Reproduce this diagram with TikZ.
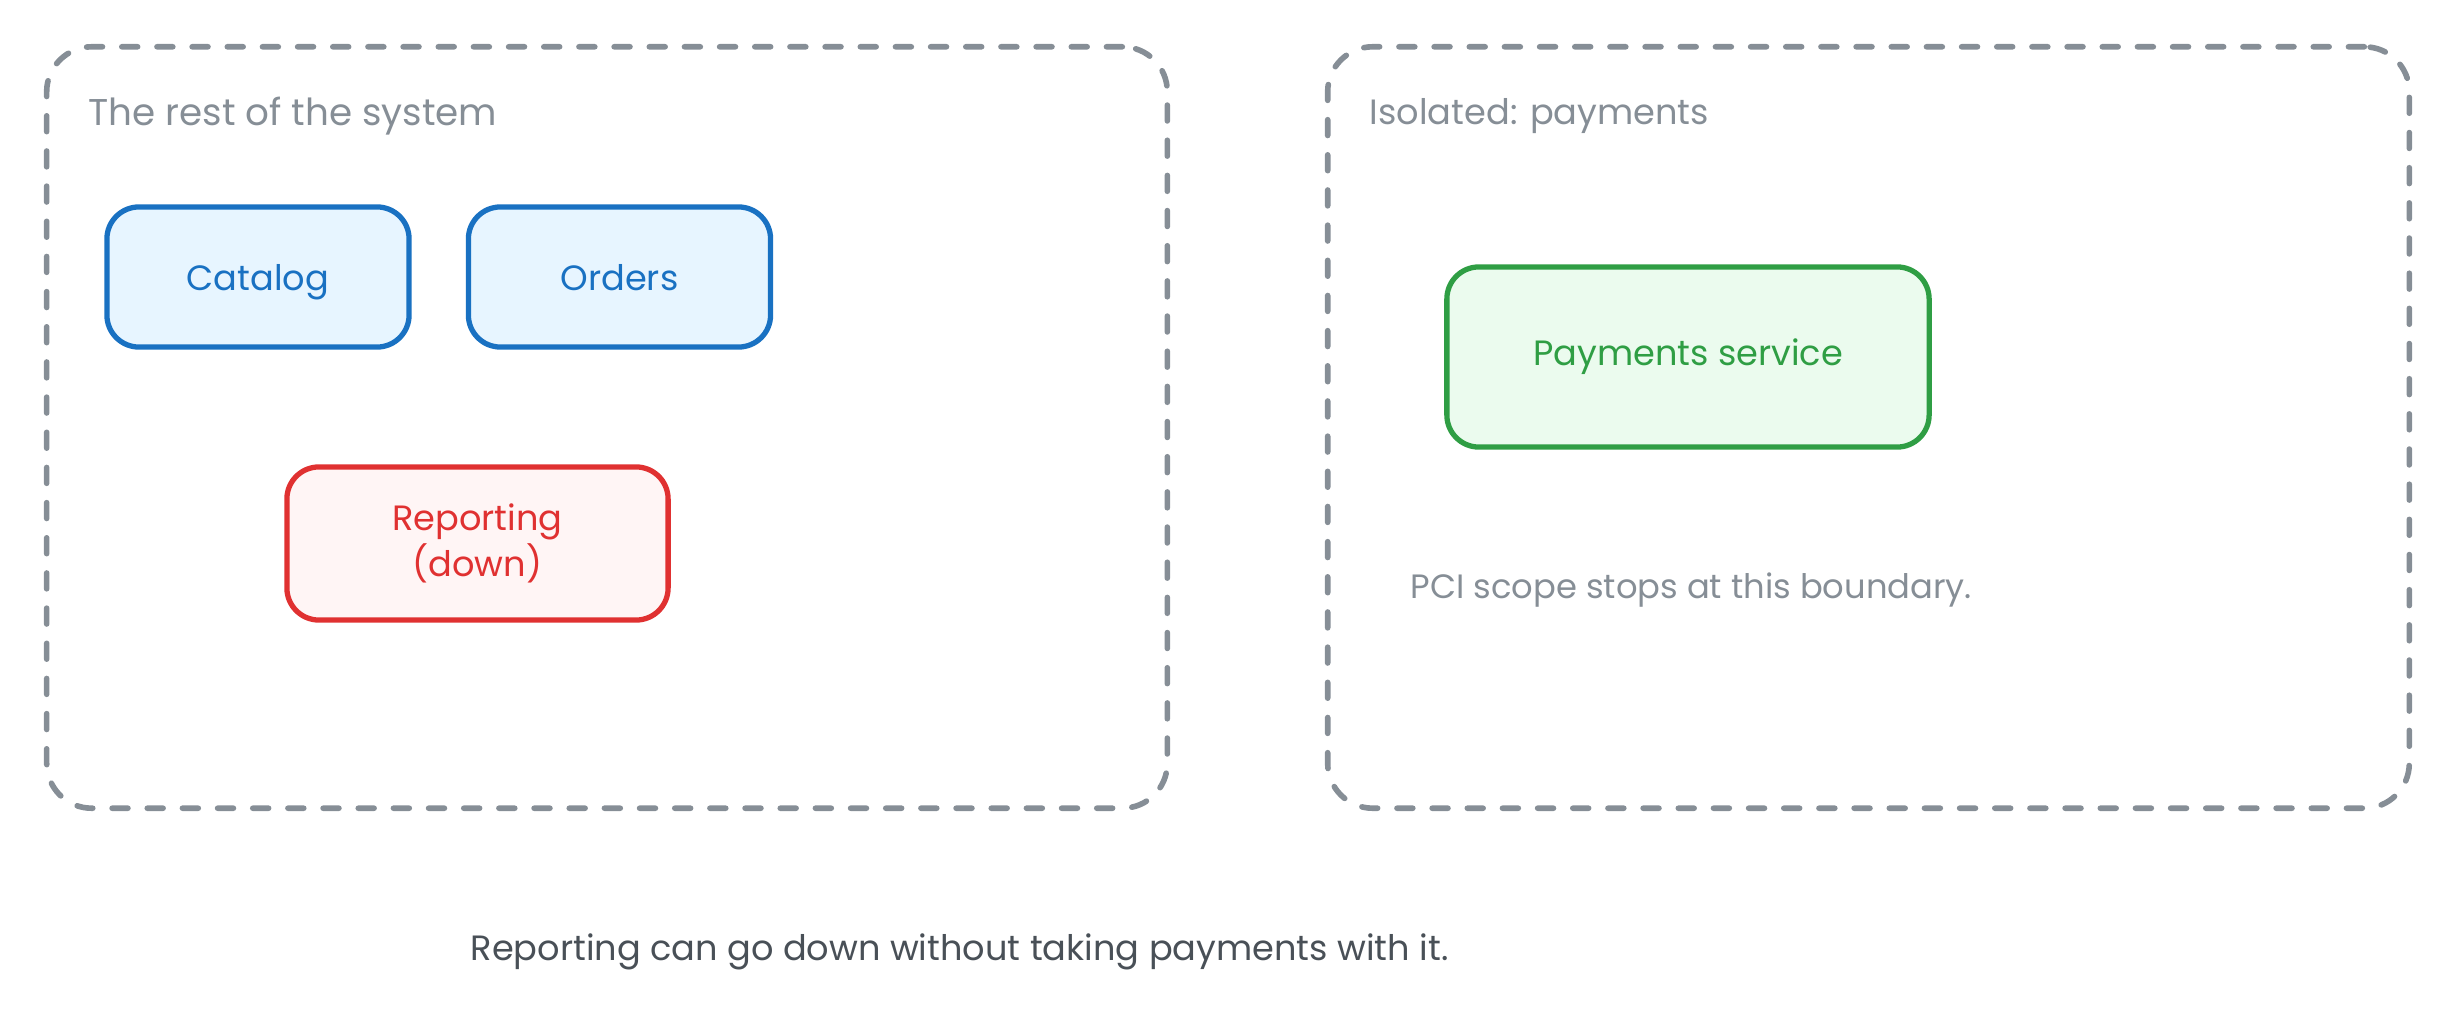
\documentclass[tikz,border=0pt]{standalone}
\usepackage{fontspec}
\setmainfont{Poppins}
\usepackage{tikz}
\usetikzlibrary{positioning}
\definecolor{zonegray}{HTML}{868E96}
\definecolor{notegray}{HTML}{495057}
\definecolor{bluestroke}{HTML}{1971C2}
\definecolor{bluefill}{HTML}{E7F5FF}
\definecolor{redstroke}{HTML}{E03131}
\definecolor{redfill}{HTML}{FFF5F5}
\definecolor{greenstroke}{HTML}{2F9E44}
\definecolor{greenfill}{HTML}{EBFBEE}

\begin{document}
\begin{tikzpicture}[x=0.01cm, y=-0.01cm, font=\fontsize{10}{11.3}\selectfont,
	zone/.style={draw=zonegray, line width=1.6pt, dash pattern=on 4.5pt off 5.5pt, line cap=round, rounded corners=0.45cm, minimum height=7.61cm, inner sep=0pt},
	zonetitle/.style={text=zonegray, anchor=base west, inner sep=0pt},
	service/.style={rectangle, rounded corners=0.32cm, line width=1.5pt, align=center, inner sep=0pt},
	bluebox/.style={service, draw=bluestroke, fill=bluefill, text=bluestroke, text height=1em, text depth=0.22em, minimum width=3.02cm, minimum height=1.4cm},
	redbox/.style={service, draw=redstroke, fill=redfill, text=redstroke, minimum width=3.81cm, minimum height=1.53cm},
	greenbox/.style={service, draw=greenstroke, fill=greenfill, text=greenstroke, minimum width=4.82cm, minimum height=1.8cm}]
	\useasboundingbox (0,0) rectangle (2456,1021);
			%zones
			\node[zone, minimum width=11.2cm] (rest) at (607,427.5) {};
			\node[zone, minimum width=10.81cm] (isolated) at (1868.5,427.5) {};
			\node[zonetitle, font=\fontsize{10.6}{12}\selectfont] (resttitle) at (88,125) {The rest of the system};
			\node[zonetitle] (isolatedtitle) at (1369,124) {Isolated: payments};
			%services
			\node[bluebox] (catalog) at (258,277) {Catalog};
			\node[bluebox, right=0.54cm of catalog] (orders) {Orders};
			\node[redbox] (reporting) at (477.5,543.5) {Reporting\\(down)};
			\node[greenbox] (payments) at (1688,357) {Payments service};
			%notes
			\node[zonetitle, font=\fontsize{9.6}{11}\selectfont] (pci) at (1410,598) {PCI scope stops at this boundary.};
			\node[text=notegray, anchor=base west, inner sep=0pt] (caption) at (470,960) {Reporting can go down without taking payments with it.};
	\end{tikzpicture}
\end{document}
